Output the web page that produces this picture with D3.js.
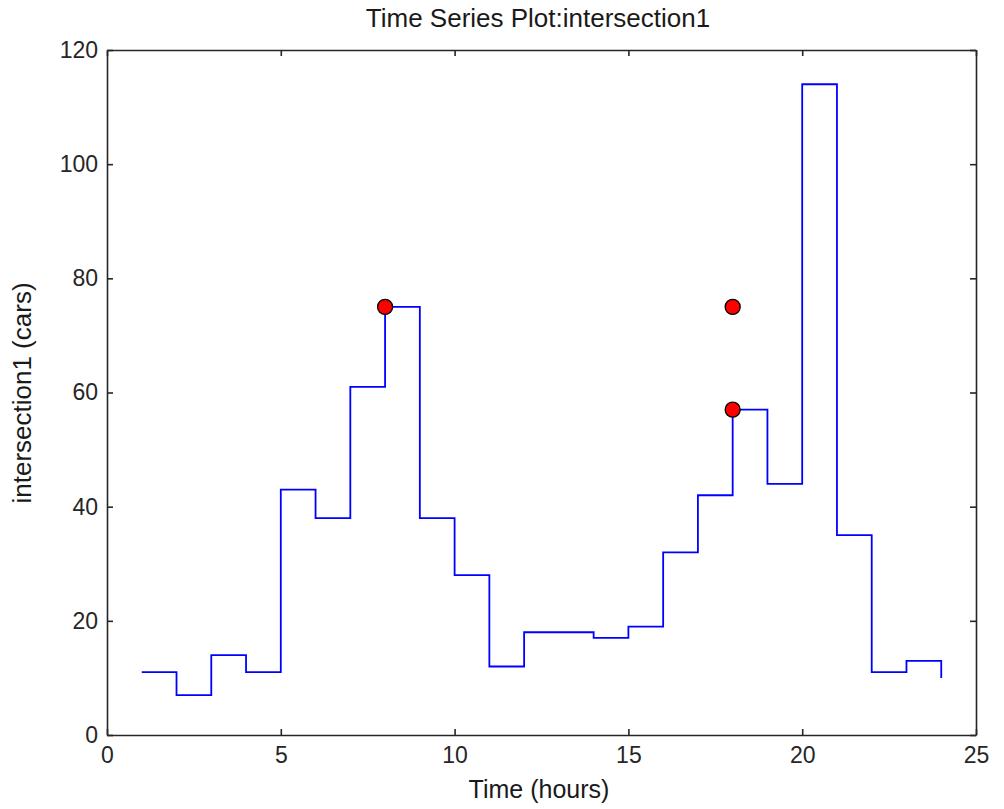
<!DOCTYPE html>
<html><head><meta charset="utf-8">
<script src="https://cdn.jsdelivr.net/npm/d3@7"></script>
<style>body{margin:0;background:#fff;} text{font-family:"Liberation Sans",Arial,sans-serif;}</style>
</head><body><svg id="c" width="1004" height="809"></svg>
<script>
const hours = [1,2,3,4,5,6,7,8,9,10,11,12,13,14,15,16,17,18,19,20,21,22,23,24];
const cars  = [11,7,14,11,43,38,61,75,38,28,12,18,18,17,19,32,42,57,44,114,35,11,13,10];
const markX = [8,18,18];
const markY = [75,75,57];
const xTicks = [0,5,10,15,20,25];
const yTicks = [0,20,40,60,80,100,120];

const svg = d3.select("#c");
const L=107, R=976, T=50, B=735;
const x = d3.scaleLinear().domain([0,25]).range([L,R]);
const y = d3.scaleLinear().domain([0,120]).range([B,T]);

svg.append("rect").attr("x",0).attr("y",0).attr("width",1004).attr("height",809).attr("fill","#fff");

const tl=6;
const axB = svg.append("g").attr("transform",`translate(0,${B})`)
  .call(d3.axisBottom(x).tickValues(xTicks).tickSizeInner(-tl).tickSizeOuter(0).tickPadding(12));
const axT = svg.append("g").attr("transform",`translate(0,${T})`)
  .call(d3.axisTop(x).tickValues(xTicks).tickSizeInner(-tl).tickSizeOuter(0).tickFormat(""));
const axL = svg.append("g").attr("transform",`translate(${L},0)`)
  .call(d3.axisLeft(y).tickValues(yTicks).tickSizeInner(-tl).tickSizeOuter(0).tickPadding(9));
const axR = svg.append("g").attr("transform",`translate(${R},0)`)
  .call(d3.axisRight(y).tickValues(yTicks).tickSizeInner(-tl).tickSizeOuter(0).tickFormat(""));
[axB,axT,axL,axR].forEach(g=>{
  g.selectAll("path").attr("stroke","#262626").attr("stroke-width",1.6);
  g.selectAll("line").attr("stroke","#262626").attr("stroke-width",1.6);
  g.selectAll("text").attr("font-size",23).attr("fill","#262626").attr("font-family","'Liberation Sans',Arial,sans-serif");
});
axB.selectAll("text").attr("dy","0.71em");

const pts = hours.map((h,i)=>[h,cars[i]]);
const line = d3.line().x(d=>x(d[0])).y(d=>y(d[1])).curve(d3.curveStepAfter);
svg.append("path").datum(pts).attr("d",line).attr("fill","none").attr("stroke","#0000ff").attr("stroke-width",1.8);

svg.selectAll("circle.m").data(markX.map((v,i)=>[v,markY[i]])).enter().append("circle")
  .attr("cx",d=>x(d[0])).attr("cy",d=>y(d[1])).attr("r",7.5)
  .attr("fill","#ff0000").attr("stroke","#000").attr("stroke-width",1.3);

svg.append("text").attr("x",538).attr("y",27).attr("text-anchor","middle")
  .attr("font-size",26).attr("fill","#1a1a1a").text("Time Series Plot:intersection1");
svg.append("text").attr("x",539).attr("y",798).attr("text-anchor","middle")
  .attr("font-size",25).attr("fill","#1a1a1a").text("Time (hours)");
svg.append("text").attr("transform",`translate(31,393) rotate(-90)`).attr("text-anchor","middle")
  .attr("font-size",26).attr("fill","#1a1a1a").text("intersection1 (cars)");
</script></body></html>
